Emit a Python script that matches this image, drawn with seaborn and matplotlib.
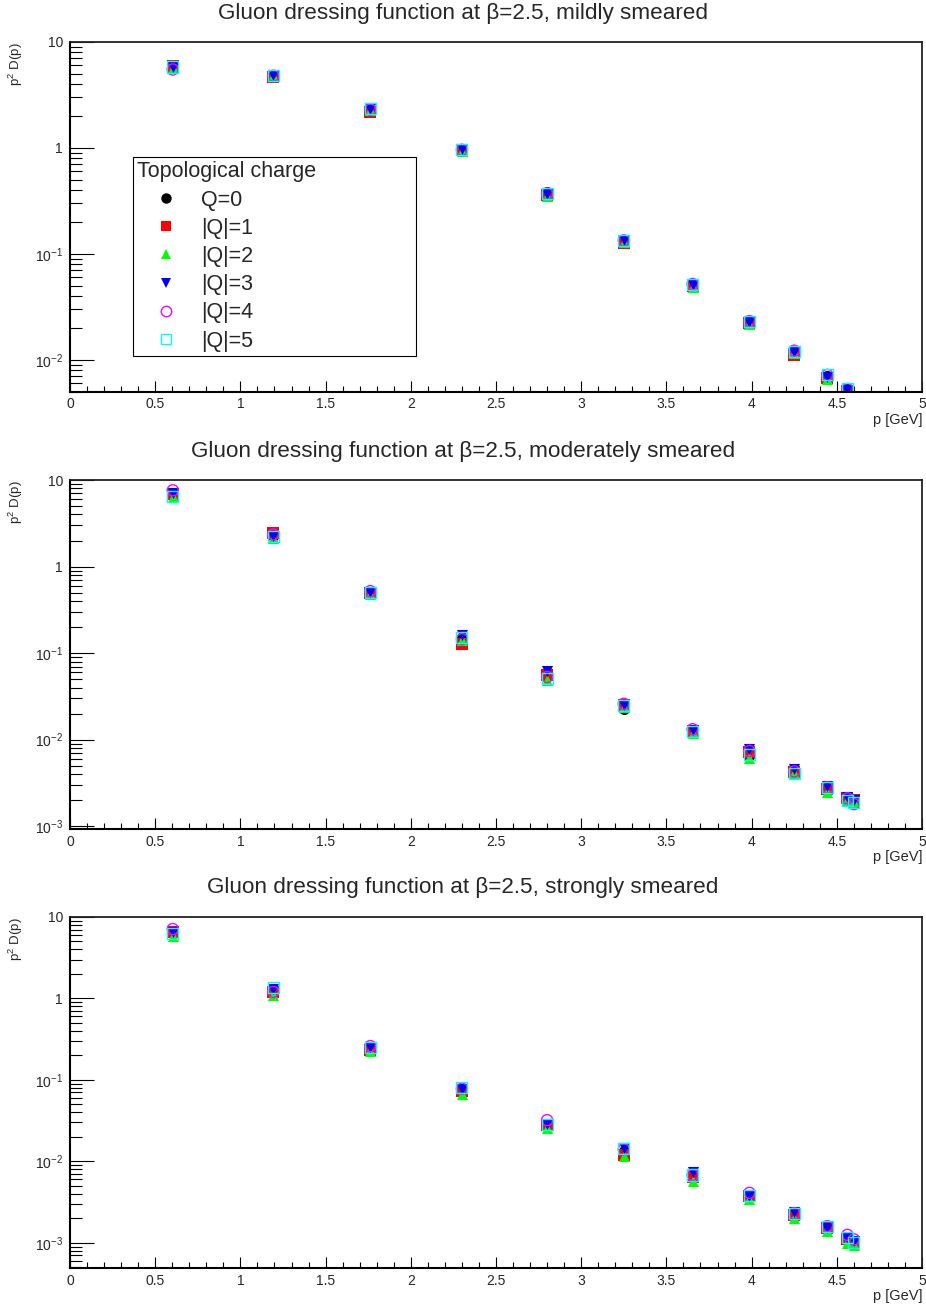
import numpy as np
import pandas as pd
import seaborn as sns
import matplotlib.pyplot as plt
from matplotlib.ticker import LogLocator, MultipleLocator, FuncFormatter, NullFormatter
from matplotlib.lines import Line2D

sns.set_style("white")
plt.rcParams['font.family'] = ['Liberation Sans', 'DejaVu Sans']
plt.rcParams['mathtext.default'] = 'regular'

# momenta in GeV
momenta = [0.603, 1.193, 1.762, 2.300, 2.800, 3.250, 3.654, 3.987, 4.250, 4.444, 4.562, 4.600]

charges = ['Q=0', '|Q|=1', '|Q|=2', '|Q|=3', '|Q|=4', '|Q|=5']

# mildly smeared (last momentum is off the plot)
mild_q0 = [5.9, 4.85, 2.35, 0.98, 0.38, 0.135, 0.051, 0.0232, 0.0118, 0.0070, 0.0053]
mild_q1 = [5.9, 4.70, 2.20, 0.95, 0.36, 0.128, 0.050, 0.0225, 0.0112, 0.0068, 0.0051]
mild_q2 = [5.7, 4.75, 2.30, 0.93, 0.35, 0.130, 0.049, 0.0220, 0.0115, 0.0066, 0.0050]
mild_q3 = [5.8, 4.85, 2.35, 0.97, 0.37, 0.134, 0.051, 0.0230, 0.0118, 0.0069, 0.0052]
mild_q4 = [5.5, 4.80, 2.30, 0.96, 0.37, 0.134, 0.052, 0.0232, 0.0122, 0.0072, 0.0053]
mild_q5 = [5.8, 4.80, 2.35, 0.97, 0.37, 0.135, 0.051, 0.0230, 0.0120, 0.0073, 0.0054]

# moderately smeared
mod_q0 = [7.0, 2.25, 0.50, 0.150, 0.055, 0.0225, 0.0125, 0.0065, 0.0043, 0.0028, 0.0021, 0.0019]
mod_q1 = [6.8, 2.45, 0.49, 0.128, 0.056, 0.0250, 0.0125, 0.0072, 0.0042, 0.0027, 0.0021, 0.0020]
mod_q2 = [6.3, 2.15, 0.48, 0.140, 0.049, 0.0240, 0.0120, 0.0062, 0.0041, 0.0025, 0.0020, 0.0019]
mod_q3 = [7.0, 2.25, 0.51, 0.160, 0.062, 0.0250, 0.0130, 0.0077, 0.0046, 0.0029, 0.0022, 0.0020]
mod_q4 = [7.6, 2.35, 0.52, 0.145, 0.053, 0.0260, 0.0132, 0.0074, 0.0043, 0.0028, 0.0021, 0.0018]
mod_q5 = [6.5, 2.20, 0.50, 0.150, 0.051, 0.0250, 0.0123, 0.0068, 0.0041, 0.0028, 0.0020, 0.0019]

# strongly smeared
str_q0 = [6.6, 1.25, 0.245, 0.075, 0.029, 0.0135, 0.0070, 0.0038, 0.0023, 0.0016, 0.00115, 0.00105]
str_q1 = [6.5, 1.20, 0.235, 0.072, 0.028, 0.0120, 0.0065, 0.0038, 0.0022, 0.0015, 0.00110, 0.00100]
str_q2 = [5.9, 1.10, 0.225, 0.068, 0.026, 0.0115, 0.0058, 0.0034, 0.0020, 0.0014, 0.00100, 0.00095]
str_q3 = [6.6, 1.30, 0.250, 0.078, 0.029, 0.0145, 0.0075, 0.0037, 0.0024, 0.0015, 0.00115, 0.00105]
str_q4 = [7.1, 1.20, 0.260, 0.078, 0.032, 0.0140, 0.0068, 0.0041, 0.0023, 0.0016, 0.00125, 0.00110]
str_q5 = [6.2, 1.35, 0.250, 0.080, 0.028, 0.0145, 0.0068, 0.0038, 0.0023, 0.0016, 0.00115, 0.00100]

titles = ['Gluon dressing function at \u03b2=2.5, mildly smeared',
          'Gluon dressing function at \u03b2=2.5, moderately smeared',
          'Gluon dressing function at \u03b2=2.5, strongly smeared']

panels = [[mild_q0, mild_q1, mild_q2, mild_q3, mild_q4, mild_q5],
          [mod_q0, mod_q1, mod_q2, mod_q3, mod_q4, mod_q5],
          [str_q0, str_q1, str_q2, str_q3, str_q4, str_q5]]

# marker, colour, filled
styles = [('o', '#000000', True), ('s', '#ff0000', True), ('^', '#00ff00', True),
          ('v', '#0000ff', True), ('o', '#ff00ff', False), ('s', '#00ffff', False)]

boxes = [[0.0756, 0.6996, 0.9201, 0.2682],
         [0.0756, 0.3643, 0.9201, 0.2676],
         [0.0756, 0.0276, 0.9201, 0.2692]]
ymins = [5.0e-3, 9.3e-4, 4.9e-4]
title_y = [14, 451, 888]


def ylab(v, pos):
    e = int(round(np.log10(v)))
    if e >= 0:
        return '%g' % v
    return r'$10^{%d}$' % e


fig = plt.figure(figsize=(9.26, 13.04), dpi=100)

for i in range(3):
    ax = fig.add_axes(boxes[i])
    series = panels[i]
    for vals, lab, (mk, col, filled) in zip(series, charges, styles):
        df = pd.DataFrame({'p': momenta[:len(vals)], 'd': vals})
        if filled:
            sns.scatterplot(data=df, x='p', y='d', ax=ax, marker=mk, s=64,
                            color=col, edgecolor=col, linewidth=0, legend=False)
        else:
            sns.scatterplot(data=df, x='p', y='d', ax=ax, marker=mk, s=64,
                            facecolors='none', edgecolor=col, linewidth=1.0, legend=False)

    ax.set_yscale('log')
    ax.set_xlim(0, 5)
    ax.set_ylim(ymins[i], 10)
    ax.xaxis.set_major_locator(MultipleLocator(0.5))
    ax.xaxis.set_minor_locator(MultipleLocator(0.1))
    ax.xaxis.set_major_formatter(FuncFormatter(lambda v, p: '%g' % v))
    ax.yaxis.set_major_locator(LogLocator(10))
    ax.yaxis.set_minor_locator(LogLocator(10, subs=range(2, 10)))
    ax.yaxis.set_minor_formatter(NullFormatter())
    ax.yaxis.set_major_formatter(FuncFormatter(ylab))

    ax.tick_params(which='both', direction='in', top=False, right=False,
                   left=True, bottom=True, color='black', width=0.8)
    ax.tick_params(axis='y', which='major', length=17, pad=5, labelsize=10)
    ax.tick_params(axis='y', which='minor', length=8.6)
    ax.tick_params(axis='x', which='major', length=8, pad=4, labelsize=10)
    ax.tick_params(axis='x', which='minor', length=4.3)
    for side in ['left', 'bottom']:
        ax.spines[side].set_linewidth(1.5)
        ax.spines[side].set_color('black')
    for side in ['top', 'right']:
        ax.spines[side].set_linewidth(1.3)
        ax.spines[side].set_color('#222222')

    ax.set_xlabel('p [GeV]', loc='right', fontsize=10.5, labelpad=1)
    ax.set_ylabel('p$^{2}$ D(p)', loc='top', fontsize=9.5)
    ax.yaxis.set_label_coords(-0.053, 1.0)

    fig.text(0.5, 1 - title_y[i] / 1304, titles[i], ha='center', va='center', fontsize=16.2)

    if i == 0:
        handles = []
        for lab, (mk, col, filled) in zip(charges, styles):
            handles.append(Line2D([], [], linestyle='', marker=mk, markersize=7.5,
                                  markerfacecolor=col if filled else 'none',
                                  markeredgecolor=col, markeredgewidth=1.0 if not filled else 0,
                                  label=lab))
        leg = ax.legend(handles=handles, title='Topological charge', loc='upper left',
                        bbox_to_anchor=(0.074, 0.108, 0.332, 0.563), mode='expand',
                        borderaxespad=0, fontsize=15.5, title_fontsize=15.5, frameon=True,
                        fancybox=False, edgecolor='black', framealpha=1, borderpad=0.2,
                        labelspacing=0.335, handlelength=2.7, handletextpad=0.25)
        leg._legend_box.align = 'left'
        leg.get_frame().set_linewidth(0.8)

fig.savefig('out.png', dpi=100)
